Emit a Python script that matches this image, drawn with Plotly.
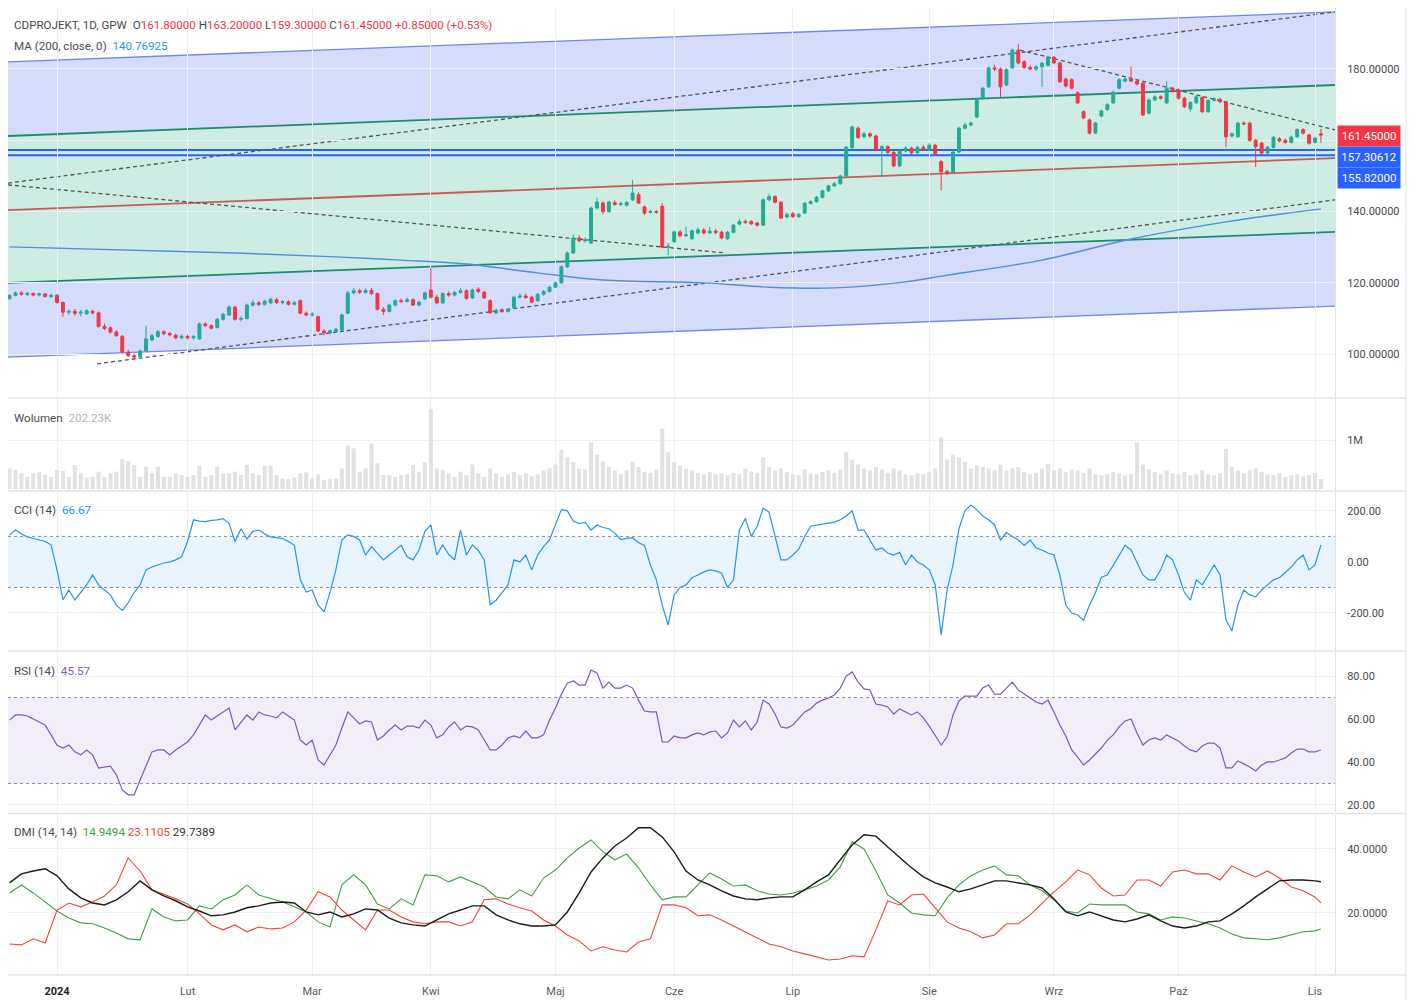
import plotly.graph_objects as go
from plotly.subplots import make_subplots

# ---------------- data ----------------
N = 222
idx = list(range(N))  # trading-day index (Dec 2023 .. 5 Nov 2024)
month_idx = [8, 30, 51, 71, 92, 112, 132, 155, 176, 197, 220]
month_lbl = ['2024', 'Lut', 'Mar', 'Kwi', 'Maj', 'Cze', 'Lip', 'Sie', 'Wrz', 'Paź', 'Lis']

opens = [
    115.6, 116.5, 117.2, 116.8, 117.0, 116.6, 116.9, 116.2, 116.5, 114.5,
    111.8, 112.0, 111.5, 111.3, 112.0, 111.6, 107.8, 107.4, 106.2, 105.0,
    100.6, 99.6, 99.3, 100.9, 104.0, 105.0, 106.3, 105.8, 105.3, 104.6,
    105.0, 104.6, 104.3, 108.5, 108.0, 107.5, 109.8, 111.0, 113.2, 109.8,
    110.0, 113.8, 114.4, 114.0, 114.4, 115.3, 114.5, 114.7, 114.0, 115.0,
    111.5, 111.0, 110.5, 106.5, 106.0, 106.4, 106.8, 111.5, 117.2, 117.8,
    117.3, 117.9, 117.0, 112.6, 112.0, 113.8, 115.0, 114.8, 115.3, 113.8,
    115.5, 118.0, 116.0, 114.4, 117.0, 116.6, 117.3, 117.8, 115.8, 118.2,
    117.4, 115.0, 111.6, 112.3, 112.0, 113.0, 116.0, 116.3, 116.0, 115.0,
    116.8, 117.6, 118.8, 120.0, 124.5, 128.4, 132.6, 131.8, 131.2, 141.0,
    142.4, 140.0, 142.5, 142.0, 141.8, 143.3, 144.7, 141.3, 139.8, 140.0,
    141.5, 130.0, 131.6, 134.3, 133.2, 132.4, 134.0, 134.8, 134.0, 134.5,
    134.2, 132.4, 134.2, 136.5, 137.2, 137.2, 136.8, 136.2, 143.3, 144.2,
    142.6, 138.5, 139.4, 138.6, 139.6, 142.3, 142.8, 144.0, 145.8, 147.2,
    147.8, 150.0, 158.0, 163.4, 161.0, 161.8, 161.2, 157.5, 158.2, 156.6,
    152.8, 157.0, 157.8, 156.5, 158.0, 157.4, 158.6, 154.0, 151.2, 150.8,
    156.7, 163.4, 164.3, 166.5, 171.8, 175.0, 180.3, 180.0, 175.5, 180.3,
    185.3, 182.0, 180.4, 180.0, 180.6, 181.0, 183.3, 181.7, 177.2, 177.0,
    173.3, 168.0, 165.7, 162.0, 166.8, 168.6, 170.5, 174.6, 176.6, 177.2,
    176.6, 176.0, 167.6, 171.3, 172.2, 170.5, 174.6, 174.1, 171.8, 168.8,
    170.5, 172.0, 168.0, 171.2, 171.5, 170.7, 161.2, 161.0, 164.8, 164.8,
    160.0, 159.2, 156.4, 158.0, 160.4, 160.0, 159.4, 161.0, 163.0, 161.5,
    159.4, 161.8]
highs = [
    116.8, 117.6, 117.8, 117.5, 117.4, 117.3, 117.2, 117.0, 116.9, 114.8,
    112.6, 112.7, 112.4, 112.6, 112.5, 112.0, 108.6, 107.8, 106.7, 105.4,
    101.3, 100.2, 101.3, 108.0, 105.8, 106.8, 106.8, 106.3, 105.8, 105.6,
    105.5, 105.4, 108.9, 109.0, 108.4, 110.2, 111.6, 113.8, 113.6, 110.6,
    114.2, 115.2, 114.9, 115.3, 115.9, 115.8, 115.2, 115.1, 114.9, 115.4,
    112.0, 111.8, 110.9, 107.0, 106.9, 107.4, 111.4, 117.8, 118.6, 118.4,
    118.5, 118.6, 117.3, 113.2, 114.2, 115.4, 115.6, 115.9, 115.7, 115.0,
    117.6, 124.2, 116.6, 117.4, 117.6, 117.8, 118.6, 118.2, 118.4, 118.8,
    117.8, 115.4, 112.8, 112.9, 113.0, 116.4, 117.1, 117.0, 116.4, 117.2,
    118.0, 119.2, 120.4, 124.9, 128.8, 133.6, 133.4, 132.8, 141.4, 143.9,
    142.9, 143.0, 143.2, 142.8, 142.9, 148.9, 145.4, 141.7, 140.6, 140.5,
    142.4, 131.2, 134.7, 134.8, 135.8, 135.0, 135.6, 135.4, 135.7, 135.2,
    134.7, 134.6, 136.6, 137.9, 137.8, 137.6, 137.1, 143.7, 145.0, 144.6,
    142.9, 139.8, 139.9, 139.6, 142.7, 143.2, 144.4, 146.2, 147.5, 148.3,
    150.4, 158.4, 164.2, 163.9, 162.4, 162.3, 161.6, 158.6, 158.6, 157.0,
    157.4, 158.3, 158.2, 158.5, 158.7, 159.2, 159.0, 154.5, 151.8, 157.1,
    163.8, 164.9, 165.3, 171.7, 175.0, 180.7, 181.2, 180.4, 180.2, 185.7,
    186.9, 182.5, 181.0, 181.0, 182.0, 183.7, 183.7, 182.0, 177.6, 177.4,
    173.7, 168.4, 166.1, 165.2, 168.6, 170.4, 173.9, 177.4, 177.8, 180.6,
    177.0, 176.4, 171.7, 172.6, 172.6, 176.5, 175.0, 174.5, 172.2, 171.0,
    172.6, 172.4, 171.6, 172.1, 171.9, 171.1, 162.3, 165.2, 165.3, 165.2,
    160.4, 159.6, 158.4, 161.2, 160.9, 160.5, 161.3, 163.4, 163.4, 161.9,
    161.0, 163.2]
lows = [
    115.2, 116.2, 116.4, 116.3, 116.2, 116.2, 115.9, 115.8, 114.2, 110.5,
    111.0, 110.8, 110.6, 111.0, 111.2, 107.5, 106.8, 105.8, 104.9, 100.2,
    99.2, 98.3, 99.0, 100.6, 103.6, 104.6, 105.3, 105.0, 104.2, 104.2,
    104.1, 104.0, 104.0, 107.6, 106.9, 107.2, 109.4, 110.7, 109.4, 109.2,
    109.8, 113.3, 113.5, 113.6, 114.0, 114.1, 114.0, 113.6, 113.7, 111.2,
    110.6, 110.5, 106.2, 105.3, 105.6, 106.0, 106.5, 111.2, 116.8, 116.9,
    117.0, 116.6, 112.3, 111.0, 111.7, 113.4, 114.3, 114.5, 113.5, 113.4,
    115.2, 115.6, 114.0, 114.1, 116.1, 116.2, 117.0, 115.3, 115.5, 117.2,
    115.5, 111.3, 111.2, 111.6, 111.7, 112.7, 115.6, 115.5, 114.3, 114.7,
    116.4, 117.3, 118.5, 119.8, 124.2, 128.1, 131.4, 131.3, 130.9, 140.6,
    139.2, 139.7, 141.6, 141.5, 141.4, 143.0, 142.1, 139.0, 139.4, 139.4,
    129.7, 127.8, 131.2, 132.8, 132.9, 132.1, 133.6, 133.6, 133.7, 133.6,
    132.2, 132.0, 133.9, 136.1, 136.5, 136.2, 135.8, 136.0, 142.9, 142.3,
    137.9, 138.1, 138.2, 138.2, 139.3, 141.9, 142.5, 143.7, 145.5, 146.9,
    147.5, 149.7, 157.6, 160.4, 160.5, 160.7, 156.9, 150.0, 156.2, 152.4,
    152.4, 156.6, 156.1, 156.2, 157.0, 157.0, 155.8, 146.0, 150.2, 150.5,
    156.4, 163.0, 163.8, 166.2, 171.4, 174.7, 179.4, 172.0, 175.2, 180.0,
    181.3, 180.0, 179.6, 179.5, 175.0, 180.7, 181.3, 176.0, 174.8, 174.2,
    170.1, 165.9, 161.6, 161.7, 166.4, 168.2, 170.2, 174.3, 176.2, 176.3,
    175.4, 166.8, 167.3, 170.9, 171.4, 170.2, 173.4, 171.4, 169.0, 168.0,
    170.2, 167.6, 167.7, 170.9, 170.4, 158.0, 160.7, 160.7, 164.2, 159.6,
    152.5, 156.0, 156.1, 157.7, 159.4, 159.0, 159.1, 160.7, 161.6, 158.8,
    159.1, 159.3]
closes = [
    116.5, 117.2, 116.8, 117.0, 116.6, 116.9, 116.2, 116.5, 114.5, 111.8,
    112.0, 111.5, 111.8, 112.2, 111.6, 107.8, 107.2, 106.2, 105.2, 100.6,
    99.6, 99.2, 100.9, 104.3, 105.2, 106.3, 105.8, 105.4, 104.6, 105.0,
    104.6, 104.9, 108.5, 108.0, 107.3, 109.8, 111.2, 113.2, 109.8, 110.0,
    113.8, 114.4, 114.0, 114.8, 115.4, 114.5, 114.7, 114.0, 114.4, 111.5,
    111.0, 111.2, 106.5, 106.0, 106.6, 107.0, 111.0, 117.2, 117.8, 117.4,
    117.9, 117.0, 112.6, 112.0, 113.8, 115.0, 114.8, 115.3, 113.8, 114.6,
    117.2, 116.0, 114.4, 117.0, 116.6, 117.3, 117.8, 115.6, 118.0, 117.6,
    115.8, 111.6, 112.3, 112.0, 112.6, 116.0, 116.3, 115.9, 114.6, 116.8,
    117.6, 118.8, 120.0, 124.5, 128.4, 132.6, 131.8, 132.0, 141.0, 142.7,
    140.0, 142.7, 142.0, 142.2, 142.6, 145.2, 142.4, 139.6, 140.0, 139.8,
    130.0, 130.3, 134.3, 133.2, 133.5, 134.6, 134.9, 134.0, 134.5, 134.2,
    132.6, 134.2, 136.2, 137.2, 137.0, 136.6, 136.2, 143.3, 144.2, 142.6,
    138.2, 139.2, 138.6, 139.2, 142.3, 142.8, 144.0, 145.8, 147.2, 147.8,
    150.0, 158.0, 163.7, 160.8, 161.8, 161.2, 157.3, 158.2, 156.6, 152.8,
    157.0, 157.8, 156.5, 158.0, 157.4, 158.6, 156.2, 151.2, 150.8, 156.7,
    163.4, 164.3, 164.8, 171.3, 174.6, 180.3, 180.0, 175.0, 179.8, 185.3,
    181.7, 180.4, 180.0, 180.6, 181.6, 183.3, 181.7, 176.4, 175.2, 174.6,
    170.5, 166.3, 162.0, 164.8, 168.2, 170.0, 173.5, 177.0, 177.2, 176.6,
    175.8, 167.1, 171.3, 172.2, 171.8, 174.6, 173.8, 171.8, 169.4, 170.6,
    172.2, 168.0, 171.2, 171.6, 170.8, 161.0, 161.8, 164.8, 164.6, 160.0,
    158.2, 156.4, 158.0, 160.8, 159.8, 159.4, 160.9, 163.0, 162.0, 159.2,
    160.6, 161.45]

volume_k = [
    420, 390, 320, 250, 320, 340, 285, 250, 390, 370,
    250, 490, 320, 230, 250, 354, 250, 320, 354, 610,
    570, 490, 250, 455, 320, 455, 250, 250, 320, 285,
    250, 285, 475, 250, 285, 455, 320, 320, 354, 285,
    490, 320, 285, 475, 475, 285, 218, 204, 230, 320,
    340, 218, 300, 184, 204, 218, 420, 885, 830, 354,
    420, 930, 525, 285, 285, 250, 285, 300, 490, 354,
    545, 1630, 420, 390, 320, 250, 354, 285, 500, 320,
    250, 420, 320, 250, 300, 350, 280, 320, 260, 300,
    380, 420, 500, 800, 650, 550, 420, 400, 950, 700,
    560, 450, 380, 300, 380, 560, 450, 350, 330, 400,
    1230, 750, 550, 480, 420, 380, 330, 300, 350, 300,
    320, 280, 330, 300, 420, 360, 330, 650, 450, 380,
    420, 350, 300, 280, 400, 320, 300, 350, 380, 330,
    400, 760, 600, 500, 420, 380, 450, 400, 330, 420,
    380, 300, 280, 320, 300, 350, 420, 1050, 600, 700,
    650, 550, 420, 480, 450, 420, 380, 500, 380, 420,
    450, 350, 300, 330, 420, 520, 380, 420, 350, 400,
    380, 330, 420, 300, 280, 300, 350, 320, 280, 300,
    950, 500, 400, 350, 300, 380, 320, 300, 350, 280,
    300, 380, 300, 280, 320, 820, 450, 380, 320, 380,
    420, 350, 300, 280, 320, 250, 280, 300, 260, 280,
    330, 202.23]

cci = [
    106, 125, 110, 98, 92, 86, 80, 67, -31, -149,
    -110, -149, -120, -90, -51, -90, -110, -129, -169, -190,
    -160, -120, -90, -31, -20, -12, -4, 0, 8, 20,
    80, 165, 160, 158, 163, 165, 170, 150, 80, 130,
    90, 120, 125, 110, 98, 95, 92, 80, 65, -70,
    -118, -110, -169, -196, -120, -30, 86, 106, 100, 86,
    27, 60, 35, 8, 27, 45, 65, 20, 8, 47,
    120, 145, 27, 67, 30, 8, 125, 27, 67, 45,
    8, -168, -150, -120, -90, 8, 0, 27, -31, 27,
    60, 86, 145, 205, 200, 160, 150, 155, 125, 145,
    135, 130, 113, 88, 92, 95, 75, 65, -12, -70,
    -170, -247, -130, -100, -90, -62, -51, -39, -31, -35,
    -43, -100, -70, 125, 170, 100, 140, 210, 195, 100,
    8, 8, 27, 50, 100, 140, 145, 150, 152, 156,
    165, 180, 200, 125, 125, 86, 47, 55, 35, 27,
    38, -12, 27, 0, -12, -31, -90, -286, -110, -12,
    130, 200, 223, 205, 180, 165, 145, 86, 115, 100,
    86, 65, 86, 55, 47, 35, 27, -51, -169, -200,
    -208, -228, -170, -120, -60, -51, -12, 27, 65, 47,
    0, -51, -70, -70, -31, 27, 8, -51, -120, -150,
    -70, -90, -51, -12, -51, -228, -270, -168, -110, -129,
    -137, -110, -90, -70, -62, -40, -20, 8, 27, -31,
    -12, 66.67]

rsi = [
    59.5, 61.9, 61.9, 61.4, 60.0, 58.6, 57.2, 52.6, 47.9, 46.5,
    47.9, 44.7, 43.3, 45.6, 43.3, 37.2, 37.7, 38.1, 34.0, 27.0,
    24.7, 24.7, 31.6, 38.1, 44.7, 45.6, 45.6, 43.3, 45.6, 47.4,
    49.3, 52.6, 57.2, 61.9, 59.5, 61.4, 63.3, 65.1, 54.9, 58.6,
    61.9, 59.5, 63.3, 61.9, 61.4, 60.5, 63.3, 61.4, 59.5, 50.2,
    47.9, 50.2, 40.9, 38.6, 43.3, 47.9, 55.8, 63.3, 60.5, 57.7,
    59.1, 58.6, 50.2, 52.1, 54.9, 57.2, 54.9, 56.7, 56.7, 55.8,
    59.5, 57.2, 51.2, 52.6, 56.3, 58.6, 54.9, 56.7, 56.3, 54.9,
    50.2, 45.6, 45.6, 47.9, 51.2, 52.1, 51.2, 54.4, 51.2, 51.2,
    52.6, 59.5, 65.1, 71.6, 76.7, 77.7, 75.8, 75.8, 82.8, 81.4,
    74.4, 77.2, 74.4, 74.4, 75.8, 74.4, 68.8, 63.7, 63.3, 63.3,
    49.3, 49.3, 52.1, 51.2, 51.2, 52.6, 53.5, 52.6, 54.0, 54.4,
    51.2, 53.5, 59.5, 56.3, 59.1, 54.9, 58.6, 68.8, 67.0, 62.3,
    56.3, 55.8, 57.2, 60.5, 63.3, 64.7, 67.4, 68.8, 69.8, 71.2,
    74.4, 80.0, 81.9, 77.2, 74.0, 73.5, 67.0, 66.5, 65.6, 62.3,
    64.7, 63.3, 61.9, 63.3, 60.5, 56.7, 52.6, 47.9, 51.6, 61.9,
    68.4, 70.7, 70.7, 70.7, 74.4, 75.8, 71.6, 71.6, 74.4, 77.2,
    73.5, 71.6, 69.8, 67.9, 67.0, 68.8, 63.3, 57.2, 52.1, 45.6,
    42.3, 38.6, 40.9, 43.7, 46.5, 50.2, 52.6, 56.3, 59.1, 60.0,
    53.5, 47.9, 50.2, 51.2, 50.2, 52.6, 51.2, 49.8, 47.4, 45.6,
    44.7, 47.4, 48.8, 48.8, 46.5, 37.2, 37.2, 40.5, 39.1, 37.7,
    35.8, 38.6, 40.0, 40.0, 40.9, 41.9, 44.2, 46.0, 46.0, 44.7,
    44.7, 45.57]

# DMI read every second session
dmi_idx = list(range(0, 221, 2)) + [221]
adx = [
    29.4, 32.2, 33.1, 33.8, 31.6, 27.5, 24.7, 23.1, 22.5, 24.1,
    26.6, 30.0, 27.2, 25.3, 23.8, 21.9, 20.6, 19.1, 19.4, 20.3,
    21.6, 22.2, 23.1, 23.4, 23.1, 20.3, 19.4, 20.3, 18.75, 19.7,
    21.25, 20.9, 18.4, 16.9, 16.25, 15.9, 17.8, 19.7, 20.9, 22.2,
    22.2, 19.4, 17.8, 16.6, 15.9, 15.9, 16.25, 20.3, 26.25, 32.8,
    37.2, 40.9, 43.4, 46.6, 46.6, 43.75, 39.1, 33.1, 30.3, 28.75,
    26.9, 25.3, 24.4, 24.1, 24.7, 25.0, 25.0, 27.2, 29.7, 31.9,
    36.6, 41.25, 44.4, 44.0, 40.6, 37.2, 34.1, 31.25, 29.4, 28.1,
    26.6, 27.5, 28.75, 30.0, 30.0, 29.4, 28.75, 27.8, 24.4, 20.3,
    19.1, 20.3, 19.1, 17.8, 17.2, 18.1, 19.4, 17.5, 15.9, 15.3,
    15.9, 17.2, 17.5, 19.7, 22.2, 25.0, 27.5, 30.0, 30.3, 30.3,
    30.0, 29.7389]
di_plus = [
    26.25, 28.75, 26.25, 23.4, 20.6, 18.4, 16.9, 16.6, 15.3, 13.75,
    11.9, 11.6, 21.25, 18.75, 17.5, 17.8, 22.2, 21.25, 24.1, 25.6,
    28.75, 25.6, 24.4, 23.4, 21.9, 20.3, 17.2, 15.6, 28.75, 31.9,
    28.75, 22.8, 21.25, 24.4, 22.5, 31.9, 31.6, 29.7, 31.25, 29.7,
    28.1, 25.0, 24.4, 27.2, 25.3, 30.9, 33.4, 37.2, 40.3, 42.8,
    39.1, 36.6, 38.4, 34.1, 28.75, 24.1, 25.0, 25.0, 28.75, 32.5,
    30.6, 28.4, 28.75, 26.9, 25.9, 25.6, 26.25, 27.2, 28.4, 30.3,
    34.4, 42.2, 40.0, 33.1, 25.6, 23.1, 20.0, 19.4, 19.1, 24.7,
    28.75, 31.6, 33.4, 34.7, 31.9, 31.6, 28.75, 26.9, 24.1, 20.6,
    20.0, 22.8, 22.5, 22.5, 22.5, 20.3, 19.7, 17.8, 18.75, 18.4,
    17.5, 16.6, 15.3, 13.4, 12.2, 11.9, 11.6, 12.2, 13.1, 14.1,
    14.4, 14.9494]
di_minus = [
    10.3, 10.0, 11.9, 10.6, 20.9, 23.1, 21.9, 23.4, 25.3, 28.75,
    37.2, 33.1, 27.2, 25.9, 24.4, 22.8, 19.7, 16.25, 14.7, 16.25,
    14.1, 15.6, 15.0, 15.3, 17.2, 20.9, 26.6, 25.0, 20.9, 17.8,
    14.7, 20.9, 20.9, 18.75, 17.2, 16.6, 17.2, 17.2, 15.9, 17.2,
    24.1, 24.4, 22.8, 21.6, 20.6, 17.8, 15.9, 13.1, 11.25, 8.1,
    9.4, 8.4, 7.8, 10.9, 11.9, 22.5, 22.5, 21.6, 19.1, 19.4,
    17.8, 15.9, 14.1, 12.2, 10.3, 9.4, 8.1, 7.2, 6.25, 5.3,
    5.6, 6.6, 6.25, 14.7, 23.75, 22.5, 25.6, 25.9, 21.6, 17.2,
    15.3, 14.1, 12.2, 13.1, 16.6, 16.6, 19.4, 23.1, 26.6, 29.7,
    33.4, 31.9, 27.8, 25.3, 25.6, 30.3, 30.3, 28.4, 32.8, 33.4,
    32.2, 32.2, 30.3, 34.7, 32.8, 31.25, 33.1, 30.9, 28.1, 26.9,
    25.0, 23.1105]

# 200-session moving average, read at a few sessions
ma_idx = [0, 38, 55, 66, 77, 89, 100, 117, 128, 139, 151, 157, 174, 189, 205, 221]
ma_val = [130.1, 128.4, 127.3, 126.4, 125.3, 122.8, 120.8, 120.0, 118.8, 118.6,
          120.3, 121.9, 126.4, 132.3, 137.1, 140.77]

# drawings on the price pane (anchor session, price)
X_L, X_R = -0.26, 223.37
outer_top = [182.0, 196.0]
outer_bot = [99.2, 113.5]
inner_top = [161.2, 175.5]
inner_bot = [120.0, 134.3]
mid_line = [140.4, 155.0]
h_levels = [157.30612, 155.82]
dashed = [((-0.26, 148.0), (223.37, 196.0)),
          ((-0.26, 147.5), (120.6, 128.4)),
          ((14.75, 97.3), (223.37, 143.3)),
          ((170.3, 185.3), (223.37, 162.9))]

# ---------------- figure ----------------
# The page body has an 8px margin, so the figure is placed at (8, 8) of the window.
W, H = 1399, 992
OFF = 8
PLOT_L, PLOT_R, PLOT_T, PLOT_B = 8, 1335, 8, 975   # window pixels

FONT = 'Roboto'
TXT = '#4a4a4a'
GRID = '#eef0f5'
UP, DOWN = '#22ab94', '#f23645'

def PY(py):
    return (PLOT_B - py) / (PLOT_B - PLOT_T)
def PX(px):
    return (px - PLOT_L) / (PLOT_R - PLOT_L)

fig = make_subplots(rows=5, cols=1, shared_xaxes=True, vertical_spacing=0.002)

fig.add_trace(go.Candlestick(x=idx, open=opens, high=highs, low=lows, close=closes,
                             increasing=dict(line=dict(color=UP, width=1), fillcolor=UP),
                             decreasing=dict(line=dict(color=DOWN, width=1), fillcolor=DOWN),
                             whiskerwidth=0, showlegend=False, hoverinfo='skip'), 1, 1)
fig.add_trace(go.Scatter(x=ma_idx, y=ma_val, mode='lines', line=dict(color='#4f8fdc', width=1.4, shape='spline'),
                         hoverinfo='skip', showlegend=False), 1, 1)

fig.add_trace(go.Bar(x=idx, y=volume_k, marker=dict(color='#e2e2e2', line=dict(width=0)),
                     showlegend=False), 2, 1)
fig.add_trace(go.Scatter(x=idx, y=cci, mode='lines', line=dict(color='#2196f3', width=1.2),
                         showlegend=False), 3, 1)
fig.add_trace(go.Scatter(x=idx, y=rsi, mode='lines', line=dict(color='#7e57c2', width=1.2),
                         showlegend=False), 4, 1)
fig.add_trace(go.Scatter(x=dmi_idx, y=di_plus, mode='lines', line=dict(color='#43a047', width=1.1),
                         showlegend=False), 5, 1)
fig.add_trace(go.Scatter(x=dmi_idx, y=di_minus, mode='lines', line=dict(color='#f44336', width=1.1),
                         showlegend=False), 5, 1)
fig.add_trace(go.Scatter(x=dmi_idx, y=adx, mode='lines', line=dict(color='#1b1b1b', width=1.4),
                         showlegend=False), 5, 1)

domains = [[PY(397), 1.0], [PY(490), PY(399)], [PY(650), PY(492)], [PY(812), PY(652)], [0.0, PY(815)]]
yranges = [[88.0, 197.1], [-20, 1837], [-345, 274], [16.7, 91.2], [0.6, 50.6]]
yticks = [([100, 120, 140, 160, 180], ['100.00000', '120.00000', '140.00000', '', '180.00000']),
          ([1000], ['1M']),
          ([200, 0, -200], ['200.00', '0.00', '-200.00']),
          ([80, 60, 40, 20], ['80.00', '60.00', '40.00', '20.00']),
          ([40, 20], ['40.0000', '20.0000'])]

for r in range(5):
    fig.update_yaxes(row=r + 1, col=1, domain=domains[r], range=yranges[r], side='right',
                     tickvals=yticks[r][0], ticktext=yticks[r][1], showgrid=True, gridcolor=GRID,
                     zeroline=False, ticks='', ticklabelstandoff=9,
                     tickfont=dict(family=FONT, size=11, color=TXT), fixedrange=True,
                     showline=True, linecolor='#e0e3eb', linewidth=1)

tick_text = ["<b><span style='color:#222'>2024</span></b>"] + month_lbl[1:]
fig.update_xaxes(range=[X_L, X_R], tickvals=month_idx, ticktext=tick_text, showgrid=True,
                 gridcolor=GRID, zeroline=False, ticks='', rangeslider_visible=False,
                 tickfont=dict(family=FONT, size=11, color='#5a5a5a'))
fig.update_xaxes(row=5, col=1, showticklabels=True, ticklabelstandoff=8)

shapes = []
def path_poly(top, bot, color):
    p = 'M %s,%s L %s,%s L %s,%s L %s,%s Z' % (X_L, top[0], X_R, top[1], X_R, bot[1], X_L, bot[0])
    shapes.append(dict(type='path', xref='x', yref='y', path=p, fillcolor=color,
                       line=dict(width=0), layer='below'))
def line_seg(p0, p1, color, width, dash='solid'):
    shapes.append(dict(type='line', xref='x', yref='y', x0=p0[0], y0=p0[1], x1=p1[0], y1=p1[1],
                       line=dict(color=color, width=width, dash=dash), layer='below'))

path_poly(outer_top, outer_bot, '#d4dbfb')
path_poly(inner_top, inner_bot, '#cdece3')
line_seg((X_L, outer_top[0]), (X_R, outer_top[1]), '#7284f0', 1.3)
line_seg((X_L, outer_bot[0]), (X_R, outer_bot[1]), '#7284f0', 1.3)
line_seg((X_L, inner_top[0]), (X_R, inner_top[1]), '#1f8a70', 1.8)
line_seg((X_L, inner_bot[0]), (X_R, inner_bot[1]), '#1f8a70', 1.8)
line_seg((X_L, mid_line[0]), (X_R, mid_line[1]), '#c85a5a', 1.8)
for lv in h_levels:
    line_seg((X_L, lv), (X_R, lv), '#2962ff', 2)
for p0, p1 in dashed:
    line_seg(p0, p1, '#555555', 1.3, '4px,3px')

# CCI band
shapes.append(dict(type='rect', xref='x3 domain', yref='y3', x0=0, x1=1, y0=-100, y1=100,
                   fillcolor='rgba(33,150,243,0.10)', line=dict(width=0), layer='below'))
for lv in (100, -100):
    shapes.append(dict(type='line', xref='x3 domain', yref='y3', x0=0, x1=1, y0=lv, y1=lv,
                       line=dict(color='#8a8f9c', width=1, dash='3px,3px')))
# RSI band
shapes.append(dict(type='rect', xref='x4 domain', yref='y4', x0=0, x1=1, y0=30, y1=70,
                   fillcolor='rgba(126,87,194,0.10)', line=dict(width=0), layer='below'))
for lv in (70, 30):
    shapes.append(dict(type='line', xref='x4 domain', yref='y4', x0=0, x1=1, y0=lv, y1=lv,
                       line=dict(color='#8a8f9c', width=1, dash='3px,3px')))
# pane separators
for py in (398, 491, 651, 813.5, 975):
    shapes.append(dict(type='line', xref='paper', yref='paper', x0=PX(6), x1=PX(1407), y0=PY(py), y1=PY(py),
                       line=dict(color='#e0e3eb', width=1.5)))
shapes.append(dict(type='line', xref='paper', yref='paper', x0=PX(1406), x1=PX(1406), y0=PY(1000), y1=PY(8),
                   line=dict(color='#e0e3eb', width=1)))
fig.update_layout(shapes=shapes)

ann = []
def label(py, text):
    ann.append(dict(xref='paper', yref='paper', x=PX(12), y=PY(py), xanchor='left', yanchor='middle',
                    text=text, showarrow=False, font=dict(family=FONT, size=11.6, color=TXT)))

R = '#f23645'
label(25, "CDPROJEKT, 1D, GPW  O<span style='color:%s'>161.80000</span> H<span style='color:%s'>163.20000</span> "
          "L<span style='color:%s'>159.30000</span> C<span style='color:%s'>161.45000</span> "
          "<span style='color:%s'>+0.85000 (+0.53%%)</span>" % (R, R, R, R, R))
label(46, "MA (200, close, 0)  <span style='color:#2196f3'>140.76925</span>")
label(418, "Wolumen  <span style='color:#b0b3bb'>202.23K</span>")
label(510, "CCI (14)  <span style='color:#2196f3'>66.67</span>")
label(671, "RSI (14)  <span style='color:#7e57c2'>45.57</span>")
label(832, "DMI (14, 14)  <span style='color:#43a047'>14.9494</span> <span style='color:#f44336'>23.1105</span> "
           "<span style='color:#333333'>29.7389</span>")

for py, txt, col in ((136, '161.45000', '#f23645'), (157, '157.30612', '#2962ff'), (178, '155.82000', '#2962ff')):
    ann.append(dict(xref='paper', yref='paper', x=PX(1337), y=PY(py), xanchor='left', yanchor='middle',
                    text=txt, showarrow=False, bgcolor=col, width=60, height=18, align='center',
                    font=dict(family=FONT, size=11.5, color='white'), borderpad=1))
fig.update_layout(annotations=ann)

fig.update_layout(width=W, height=H,
                  margin=dict(l=PLOT_L - OFF, r=W - (PLOT_R - OFF), t=PLOT_T - OFF, b=H - (PLOT_B - OFF)),
                  paper_bgcolor='white', plot_bgcolor='white', showlegend=False,
                  bargap=0.3, font=dict(family=FONT, size=11, color=TXT))

fig.write_html("out.html")
